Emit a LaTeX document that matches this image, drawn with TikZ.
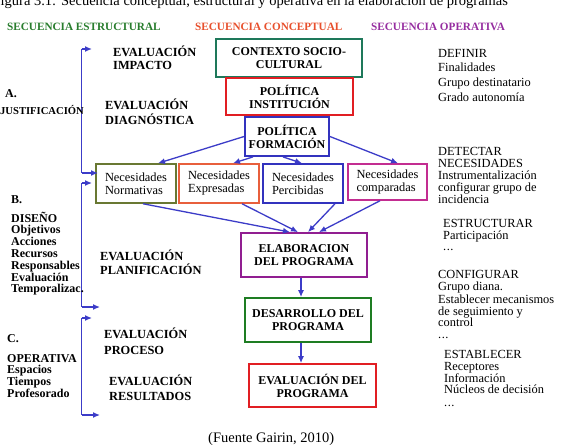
\documentclass[tikz,border=0pt]{standalone}
\usepackage{fontspec}
\setmainfont{Liberation Serif}
\usetikzlibrary{arrows.meta}
\definecolor{hgreen}{RGB}{40,125,45}
\definecolor{hred}{RGB}{232,80,45}
\definecolor{hpurple}{RGB}{150,45,160}
\definecolor{cteal}{RGB}{30,120,90}
\definecolor{cred}{RGB}{225,30,35}
\definecolor{cblue}{RGB}{50,50,190}
\definecolor{colive}{RGB}{105,120,50}
\definecolor{corange}{RGB}{232,95,60}
\definecolor{cmag}{RGB}{195,45,145}
\definecolor{cpurple}{RGB}{145,30,145}
\definecolor{cgreen}{RGB}{30,125,35}
\definecolor{arrblue}{RGB}{60,60,200}
\newcommand{\tdots}{.\kern0.5pt.\kern0.5pt.}
\begin{document}
\begin{tikzpicture}[x=1pt,y=-1pt,
 arr/.style={draw=arrblue, line width=1.3pt, -{Latex[length=7pt,width=6pt]}},
 bline/.style={draw=arrblue, line width=1.3pt},
 box/.style={draw, line width=1.8pt, inner sep=0pt, align=center, font=\bfseries\fontsize{12}{13}\selectfont},
 nbox/.style={draw, line width=1.5pt, inner sep=0pt, align=left, font=\fontsize{12.4}{13}\selectfont},
 lbl/.style={inner sep=0pt, anchor=base west, font=\bfseries\fontsize{12}{12}\selectfont},
 ev/.style={inner sep=0pt, anchor=base west, font=\bfseries\fontsize{12.4}{13}\selectfont},
 rt/.style={inner sep=0pt, anchor=base west, font=\fontsize{12.4}{12}\selectfont},
 head/.style={inner sep=0pt, anchor=base west, font=\bfseries\fontsize{11.2}{12}\selectfont},
]
\useasboundingbox (0,0) rectangle (561,445);
\fill[white] (0,0) rectangle (561,445);
\begin{scope}
\clip (0,0) rectangle (561,445);
% clipped caption
\node[inner sep=0pt, anchor=base west, font=\fontsize{14.5}{15}\selectfont] (cap) at (0.5,5.5)
 {\llap{F}igura 3.1: Secuencia conceptual, estructural y operativa en la elaboración de programas};
\node[inner sep=0pt, anchor=base west, font=\fontsize{14.5}{15}\selectfont] (src) at (208,442.5) {(Fuente Gairin, 2010)};

% headings
\node[head, text=hgreen] (h1) at (7,30.5) {SECUENCIA ESTRUCTURAL};
\node[head, text=hred] (h2) at (195,30.5) {SECUENCIA CONCEPTUAL};
\node[head, text=hpurple] (h3) at (371,30.5) {SECUENCIA OPERATIVA};

% central boxes
\node[box, draw=cteal, minimum width=146, minimum height=38] (ctx) at (289,58) {CONTEXTO SOCIO-\\CULTURAL};
\node[box, draw=cred, minimum width=127, minimum height=37] (inst) at (289.5,96.5) {POLÍTICA\\INSTITUCIÓN};
\node[box, draw=cblue, minimum width=84, minimum height=39] (form) at (287,136.5) {POLÍTICA\\FORMACIÓN};

\node[nbox, draw=colive, minimum width=80, minimum height=39] (norm) at (136,183.5) {Necesidades\\Normativas};
\node[nbox, draw=corange, minimum width=80, minimum height=39] (expr) at (219,183.5) {Necesidades\\Expresadas};
\node[nbox, draw=cblue, minimum width=80, minimum height=39] (perc) at (303,183.5) {Necesidades\\Percibidas};
\node[nbox, draw=cmag, minimum width=79, minimum height=36] (comp) at (387.5,182) {Necesidades\\comparadas};

\node[box, draw=cpurple, minimum width=126, minimum height=44] (elab) at (304,255) {ELABORACION\\DEL PROGRAMA};
\node[box, draw=cgreen, minimum width=126, minimum height=44] (desa) at (308,320) {DESARROLLO DEL\\PROGRAMA};
\node[box, draw=cred, minimum width=127, minimum height=43] (eval) at (312.5,385.5) {EVALUACIÓN DEL\\PROGRAMA};

% arrows
\draw[arr] (form.west) -- ([xshift=22pt]norm.north);
\draw[arr] ([xshift=-34pt]form.south) -- ([xshift=14pt]expr.north);
\draw[arr] ([xshift=-4pt]form.south) -- ([xshift=-1pt]perc.north);
\draw[arr] (form.east) -- ([xshift=10.5pt]comp.north);

\draw[arr] ([xshift=7pt]norm.south) -- ([xshift=-14pt]elab.north);
\draw[arr] ([xshift=23pt]expr.south) -- ([xshift=-6pt]elab.north);
\draw[arr] ([xshift=32pt]perc.south) -- ([xshift=4pt]elab.north);
\draw[arr] ([xshift=-7.5pt]comp.south) -- ([xshift=15pt]elab.north);

\draw[arr] ([xshift=-3pt]elab.south) -- ([xshift=-7pt]desa.north);
\draw[arr] ([xshift=-7pt]desa.south) -- ([xshift=-11.5pt]eval.north);

% brackets
\coordinate (b1t) at (81.5,49);  \coordinate (b1a) at (92,49);
\coordinate (b1b) at (81.5,173); \coordinate (b1e) at (98,173);
\coordinate (b2t) at (81.5,183); \coordinate (b2a) at (92,183);
\coordinate (b2b) at (81.5,307); \coordinate (b2e) at (100,307);
\coordinate (b3t) at (81.5,318); \coordinate (b3a) at (92,318);
\coordinate (b3b) at (81.5,415); \coordinate (b3e) at (100,415);
\foreach \k in {1,2,3}{
  \draw[bline] (b\k t) -- (b\k b);
  \draw[arr] (b\k t) -- (b\k a);
  \draw[arr] (b\k b) -- (b\k e);
}

% left texts
\node[lbl] (la) at (5,97) {A.};
\node[inner sep=0pt, anchor=base east, font=\bfseries\fontsize{10.6}{11}\selectfont] (ljus) at (84,114) {JUSTIFICACIÓN};
\node[lbl] (lb) at (11,203) {B.};
\foreach \t/\yy [count=\i] in {DISEÑO/222,Objetivos/233.8,Acciones/245.6,Recursos/257.4,Responsables/269.2,Evaluación/281,Temporalizac./292.8}
  {\node[lbl] (ld\i) at (11,\yy) {\t};}
\node[lbl] (lc) at (7,342) {C.};
\foreach \t/\yy [count=\i] in {OPERATIVA/362,Espacios/373.7,Tiempos/385.4,Profesorado/397}
  {\node[lbl] (lo\i) at (7,\yy) {\t};}

% evaluation labels
\node[ev] (e1a) at (113,56) {EVALUACIÓN};
\node[ev] (e1b) at (113,69) {IMPACTO};
\node[ev] (e2a) at (105,109) {EVALUACIÓN};
\node[ev] (e2b) at (105,124) {DIAGNÓSTICA};
\node[ev] (e3a) at (100,260) {EVALUACIÓN};
\node[ev] (e3b) at (100,274) {PLANIFICACIÓN};
\node[ev] (e4a) at (104,338) {EVALUACIÓN};
\node[ev] (e4b) at (104,354) {PROCESO};
\node[ev] (e5a) at (109,385) {EVALUACIÓN};
\node[ev] (e5b) at (109,400) {RESULTADOS};

% right texts
\foreach \t/\yy [count=\i] in {DEFINIR/57,Finalidades/71,Grupo destinatario/86,Grado autonomía/101}
  {\node[rt] (r1\i) at (438,\yy) {\t};}
\foreach \t/\yy [count=\i] in {DETECTAR/155,NECESIDADES/167,Instrumentalización/179,configurar grupo de/191,incidencia/203}
  {\node[rt] (r2\i) at (438,\yy) {\t};}
\foreach \t/\yy [count=\i] in {ESTRUCTURAR/227,Participación/239,\tdots/250}
  {\node[rt] (r3\i) at (443,\yy) {\t};}
\foreach \t/\yy [count=\i] in {CONFIGURAR/278,Grupo diana./290,Establecer mecanismos/303,de seguimiento y/315,control/326,\tdots/338}
  {\node[rt] (r4\i) at (438,\yy) {\t};}
\foreach \t/\yy [count=\i] in {ESTABLECER/358,Receptores/370,Información/382,Núcleos de decisión/393,\tdots/406}
  {\node[rt] (r5\i) at (444,\yy) {\t};}
\end{scope}
\end{tikzpicture}
\end{document}
